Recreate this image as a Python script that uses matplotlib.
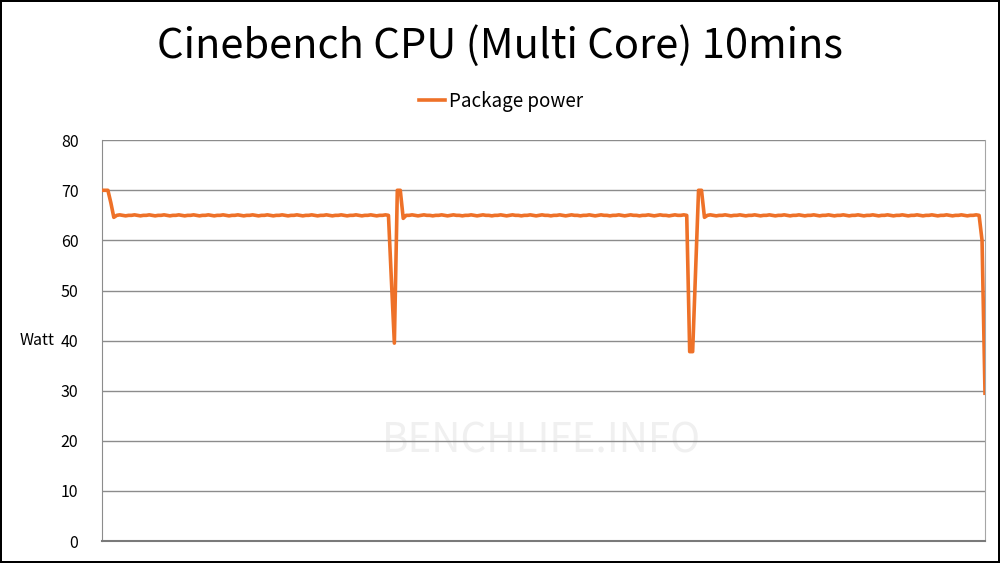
import matplotlib
matplotlib.use("Agg")
import matplotlib.pyplot as plt
import numpy as np

plt.rcParams['font.family'] = ['Noto Sans CJK TC', 'DejaVu Sans']

# Package power samples (W), one per sample step
start = [70.0, 70.0, 70.0, 67.5, 64.6]
flat1 = [65.0, 65.1, 65.0, 64.9, 65.0, 65.0, 65.1, 65.0, 64.9, 65.0] * 9 + [65.0, 65.1]
dip1 = [65.0, 52.0, 39.5, 70.0, 70.0, 64.4]
flat2 = [65.0, 65.0, 65.1, 65.0, 64.9, 65.0, 65.1, 65.0, 65.0, 64.9] * 9 + [65.0, 65.1, 65.0, 65.0, 65.1]
dip2 = [65.0, 37.8, 37.8, 54.0, 70.0, 70.0, 64.6]
flat3 = [65.0, 65.1, 65.0, 64.9, 65.0, 65.0, 65.1, 65.0, 64.9, 65.0] * 9 + [65.0, 65.1, 65.0]
end = [60.0, 29.5]

package_power = start + flat1 + dip1 + flat2 + dip2 + flat3 + end
samples = np.arange(len(package_power))

y_ticks = [0, 10, 20, 30, 40, 50, 60, 70, 80]

fig = plt.figure(figsize=(10, 5.63), dpi=100)
fig.patch.set_edgecolor('black')
fig.patch.set_linewidth(1.5)
ax = fig.add_axes([0.102, 0.039, 0.883, 0.712])

ax.plot(samples, package_power, color='#EE7128', linewidth=2.6,
        solid_joinstyle='round', label='Package power', zorder=3)

ax.set_xlim(0, len(package_power) - 1)
ax.set_ylim(0, 80)
ax.set_yticks(y_ticks)
ax.set_xticks([])
ax.grid(axis='y', color='#8c8c8c', linewidth=1.0)
ax.tick_params(axis='y', length=0, labelsize=11.5, pad=17, colors='black')

ax.spines['top'].set_visible(False)
ax.spines['left'].set_color('#8c8c8c')
ax.spines['right'].set_color('#a6a6a6')
ax.spines['bottom'].set_color('#7a7a7a')
ax.spines['bottom'].set_linewidth(1.5)

ax.set_ylabel('Watt', rotation=0, fontsize=11.5, va='center')
ax.yaxis.set_label_coords(-0.073, 0.5)

fig.text(0.5, 0.918, 'Cinebench CPU (Multi Core) 10mins', ha='center', va='center',
         fontsize=30)

ax.legend(loc='center', bbox_to_anchor=(0.452, 1.097), frameon=False, fontsize=13.5,
          handlelength=1.4, handletextpad=0.2)

# faint watermark
ax.text(0.498, 0.249, 'BENCHLIFE.INFO', transform=ax.transAxes, ha='center',
        va='center', fontsize=29, color='#f0f0f0', zorder=1)

fig.savefig('out.png', dpi=100)
